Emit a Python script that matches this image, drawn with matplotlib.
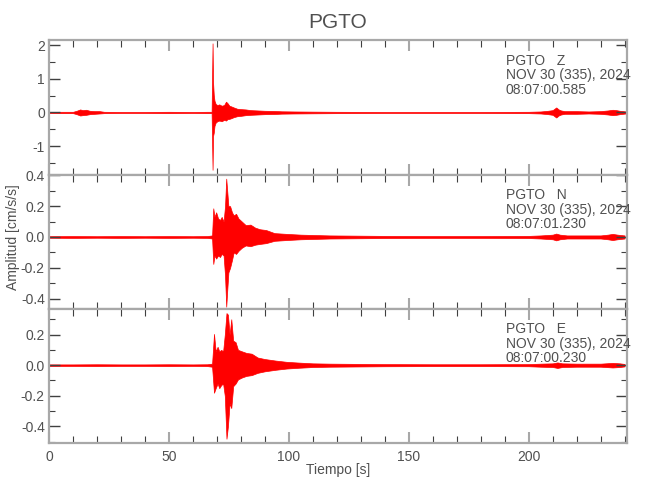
import numpy as np
import matplotlib.pyplot as plt
from matplotlib.ticker import MultipleLocator, FormatStrFormatter

plt.rcParams['font.family'] = ['Liberation Sans', 'DejaVu Sans']

station = "PGTO"
channels = ["Z", "N", "E"]
date_str = "NOV 30 (335), 2024"
start_times = ["08:07:00.585", "08:07:01.230", "08:07:00.230"]

# envelope (upper / lower) of each trace, time in s
t_z = [0, 5, 10, 11.5, 13, 14, 15.5, 17, 19, 21, 23, 30, 40, 50, 60, 66, 67.8,
       68.2, 68.4, 68.7, 69.0, 69.5, 70.2, 71, 72, 73, 73.8, 74.4, 75.2, 76, 77,
       78.5, 80, 82, 84, 87, 90, 94, 97, 102, 110, 120, 140, 160, 180, 200,
       205, 208, 210, 211.5, 212.5, 213.5, 215, 220, 225, 230, 233, 235, 236.5,
       238, 240.5]
up_z = [0.015, 0.02, 0.02, 0.05, 0.09, 0.07, 0.08, 0.05, 0.04, 0.04, 0.02,
        0.015, 0.015, 0.02, 0.015, 0.02, 0.02,
        2.05, 0.9, 0.52, 0.35, 0.25, 0.22, 0.24, 0.2, 0.22, 0.32, 0.28, 0.2,
        0.18, 0.15, 0.11, 0.1, 0.09, 0.07, 0.06, 0.05, 0.045, 0.035, 0.03, 0.025,
        0.02, 0.015, 0.015, 0.015, 0.02,
        0.03, 0.05, 0.07, 0.15, 0.09, 0.06, 0.04, 0.04, 0.03, 0.04, 0.06, 0.08,
        0.07, 0.05, 0.03]
lo_z = [-0.015, -0.02, -0.02, -0.05, -0.09, -0.08, -0.07, -0.05, -0.04,
        -0.03, -0.02, -0.015, -0.015, -0.02, -0.015, -0.02, -0.02,
        -1.70, -0.7, -0.6, -0.4, -0.3, -0.26, -0.24, -0.26, -0.22, -0.24,
        -0.2, -0.19, -0.17, -0.14, -0.11, -0.1, -0.08, -0.07, -0.06, -0.05,
        -0.045, -0.035, -0.03, -0.025, -0.02, -0.015, -0.015, -0.015, -0.02,
        -0.03, -0.05, -0.07, -0.15, -0.09, -0.06, -0.04, -0.04, -0.03, -0.04,
        -0.06, -0.08, -0.07, -0.05, -0.03]

t_n = [0, 10, 20, 30, 40, 50, 60, 66, 68.0, 68.5, 69, 69.7, 70.5, 71.3, 72,
       72.8, 73.4, 73.9, 74.3, 74.8, 75.5, 76.3, 77, 78, 79, 80.4, 82, 84, 86,
       88, 90.5, 94, 99, 105, 117, 140, 160, 180, 200, 205, 210, 211.5, 213,
       216, 225, 230, 233, 235, 237, 240]
up_n = [0.005, 0.006, 0.005, 0.006, 0.005, 0.006, 0.005, 0.006, 0.01, 0.186,
        0.13, 0.16, 0.12, 0.11, 0.13, 0.10, 0.2, 0.378, 0.3, 0.2, 0.2, 0.16,
        0.14, 0.15, 0.12, 0.1, 0.077, 0.08, 0.06, 0.05, 0.045, 0.025, 0.02,
        0.015, 0.01, 0.007, 0.006, 0.006, 0.007, 0.01, 0.015, 0.022, 0.015,
        0.01, 0.01, 0.01, 0.015, 0.02, 0.015, 0.01]
lo_n = [-0.005, -0.006, -0.005, -0.006, -0.005, -0.006, -0.005, -0.006,
        -0.01, -0.175, -0.12, -0.14, -0.12, -0.13, -0.11, -0.12, -0.25,
        -0.452, -0.35, -0.23, -0.2, -0.15, -0.1, -0.11, -0.09, -0.07, -0.055,
        -0.06, -0.05, -0.045, -0.04, -0.025, -0.02, -0.015, -0.01, -0.007,
        -0.006, -0.006, -0.007, -0.01, -0.015, -0.022, -0.015, -0.01, -0.01,
        -0.01, -0.015, -0.02, -0.015, -0.01]

t_e = [0, 10, 20, 30, 40, 50, 60, 66, 68.0, 68.8, 69.5, 70.3, 71, 71.8, 72.6,
       73.3, 74.0, 74.6, 75.3, 76, 76.8, 77.8, 78.8, 80.5, 82.3, 84.5, 87, 90,
       94.5, 99, 104, 110, 117, 140, 160, 180, 200, 205, 210, 212, 214, 220,
       230, 235, 238, 240]
up_e = [0.005, 0.005, 0.006, 0.005, 0.005, 0.006, 0.005, 0.006, 0.01, 0.204,
        0.09, 0.12, 0.09, 0.1, 0.09, 0.2, 0.34, 0.33, 0.2, 0.3, 0.16, 0.15,
        0.1, 0.09, 0.08, 0.075, 0.05, 0.04, 0.03, 0.022, 0.017, 0.012, 0.01,
        0.007, 0.006, 0.006, 0.007, 0.01, 0.012, 0.018, 0.012, 0.01, 0.01,
        0.015, 0.012, 0.008]
lo_e = [-0.005, -0.005, -0.006, -0.005, -0.005, -0.006, -0.005, -0.006,
        -0.01, -0.18, -0.15, -0.12, -0.15, -0.13, -0.12, -0.2, -0.48, -0.4,
        -0.25, -0.28, -0.137, -0.12, -0.093, -0.08, -0.07, -0.065, -0.05,
        -0.04, -0.03, -0.022, -0.017, -0.012, -0.01, -0.007, -0.006, -0.006,
        -0.007, -0.01, -0.012, -0.018, -0.012, -0.01, -0.01, -0.015, -0.012,
        -0.008]

ylims = [(-1.84, 2.15), (-0.467, 0.405), (-0.508, 0.37)]
ymajor = [1.0, 0.2, 0.2]
yminor = [0.5, 0.1, 0.1]
yfmt = ["%d", "%.1f", "%.1f"]

traces = [(t_z, up_z, lo_z), (t_n, up_n, lo_n), (t_e, up_e, lo_e)]

spine_c = "#a8a8a8"
text_c = "#505050"

fig = plt.figure(figsize=(6.5, 5), dpi=100)
left, width = 49 / 650, 578 / 650
tops = [40, 174.5, 308.5]
h = 134.5

for i, (t, up, lo) in enumerate(traces):
    ax = fig.add_axes([left, 1 - (tops[i] + h) / 500, width, h / 500])
    ax.fill_between(t, lo, up, color="red", lw=0.5)
    ax.set_xlim(0, 241)
    ax.set_ylim(*ylims[i])
    ax.xaxis.set_major_locator(MultipleLocator(50))
    ax.xaxis.set_minor_locator(MultipleLocator(10))
    ax.yaxis.set_major_locator(MultipleLocator(ymajor[i]))
    ax.yaxis.set_minor_locator(MultipleLocator(yminor[i]))
    ax.yaxis.set_major_formatter(FormatStrFormatter(yfmt[i]))
    ax.tick_params(axis="both", which="both", direction="in",
                   top=True, right=True, labelsize=10, labelcolor=text_c)
    ax.tick_params(axis="x", which="major", length=8, width=1.5, color=spine_c,
                   pad=5)
    ax.tick_params(axis="x", which="minor", length=5, width=0.8,
                   color="#404040")
    ax.tick_params(axis="y", which="major", length=8, width=1.0,
                   color="#404040", pad=3)
    ax.tick_params(axis="y", which="minor", length=4, width=0.8,
                   color="#404040")
    if i < 2:
        ax.tick_params(axis="x", labelbottom=False)
    for s in ax.spines.values():
        s.set_color(spine_c)
        s.set_linewidth(1.6)
    lines = [f"{station}   {channels[i]}", date_str, start_times[i]]
    for k, line in enumerate(lines):
        ax.text(0.79, 0.845 - 0.108 * k, line, transform=ax.transAxes,
                fontsize=10, color=text_c, va="center", ha="left")

fig.text(0.52, 0.956, station, ha="center", va="center", fontsize=15,
         color=text_c)
fig.text(0.52, 0.06, "Tiempo [s]", ha="center", va="center", fontsize=10,
         color=text_c)
fig.text(0.02, 0.526, "Amplitud [cm/s/s]", ha="center", va="center",
         rotation=90, fontsize=10, color=text_c)

fig.savefig("out.png", dpi=100)
